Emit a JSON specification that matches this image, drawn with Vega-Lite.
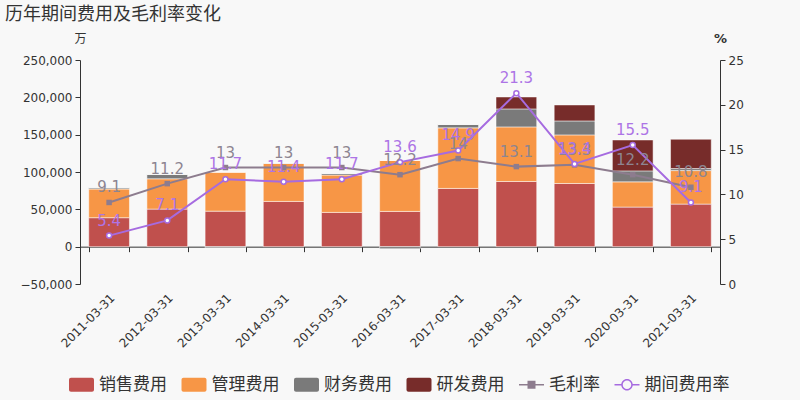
{
  "$schema": "https://vega.github.io/schema/vega-lite/v6.json",
  "autosize": {"type": "none"},
  "width": 640,
  "height": 224,
  "padding": {"left": 80, "top": 60, "right": 80, "bottom": 116},
  "background": "#f8f8f8",
  "title": {"text": "历年期间费用及毛利率变化", "anchor": "start", "frame": "group", "dx": -75, "dy": -4, "font": "Noto Sans CJK SC", "fontSize": 18, "fontWeight": "normal", "color": "#333333"},
  "config": {"view": {"stroke": null}, "axis": {"grid": false}},
  "datasets": {
    "bars": [
      {"d": "2011-03-31", "t": "销售费用", "v": 38800, "o": 1},
      {"d": "2011-03-31", "t": "管理费用", "v": 38400, "o": 2},
      {"d": "2011-03-31", "t": "财务费用", "v": 1700, "o": 3},
      {"d": "2011-03-31", "t": "研发费用", "v": 0, "o": 4},
      {"d": "2012-03-31", "t": "销售费用", "v": 50300, "o": 1},
      {"d": "2012-03-31", "t": "管理费用", "v": 40600, "o": 2},
      {"d": "2012-03-31", "t": "财务费用", "v": 5800, "o": 3},
      {"d": "2012-03-31", "t": "研发费用", "v": 0, "o": 4},
      {"d": "2013-03-31", "t": "销售费用", "v": 47600, "o": 1},
      {"d": "2013-03-31", "t": "管理费用", "v": 52100, "o": 2},
      {"d": "2013-03-31", "t": "财务费用", "v": -1500, "o": 3},
      {"d": "2013-03-31", "t": "研发费用", "v": 0, "o": 4},
      {"d": "2014-03-31", "t": "销售费用", "v": 60600, "o": 1},
      {"d": "2014-03-31", "t": "管理费用", "v": 50800, "o": 2},
      {"d": "2014-03-31", "t": "财务费用", "v": 500, "o": 3},
      {"d": "2014-03-31", "t": "研发费用", "v": 0, "o": 4},
      {"d": "2015-03-31", "t": "销售费用", "v": 45900, "o": 1},
      {"d": "2015-03-31", "t": "管理费用", "v": 50000, "o": 2},
      {"d": "2015-03-31", "t": "财务费用", "v": 2100, "o": 3},
      {"d": "2015-03-31", "t": "研发费用", "v": 0, "o": 4},
      {"d": "2016-03-31", "t": "销售费用", "v": 47200, "o": 1},
      {"d": "2016-03-31", "t": "管理费用", "v": 68200, "o": 2},
      {"d": "2016-03-31", "t": "财务费用", "v": -2700, "o": 3},
      {"d": "2016-03-31", "t": "研发费用", "v": 0, "o": 4},
      {"d": "2017-03-31", "t": "销售费用", "v": 78000, "o": 1},
      {"d": "2017-03-31", "t": "管理费用", "v": 81100, "o": 2},
      {"d": "2017-03-31", "t": "财务费用", "v": 4500, "o": 3},
      {"d": "2017-03-31", "t": "研发费用", "v": 0, "o": 4},
      {"d": "2018-03-31", "t": "销售费用", "v": 87300, "o": 1},
      {"d": "2018-03-31", "t": "管理费用", "v": 73100, "o": 2},
      {"d": "2018-03-31", "t": "财务费用", "v": 24100, "o": 3},
      {"d": "2018-03-31", "t": "研发费用", "v": 16000, "o": 4},
      {"d": "2019-03-31", "t": "销售费用", "v": 84600, "o": 1},
      {"d": "2019-03-31", "t": "管理费用", "v": 65100, "o": 2},
      {"d": "2019-03-31", "t": "财务费用", "v": 18700, "o": 3},
      {"d": "2019-03-31", "t": "研发费用", "v": 21400, "o": 4},
      {"d": "2020-03-31", "t": "销售费用", "v": 53000, "o": 1},
      {"d": "2020-03-31", "t": "管理费用", "v": 33800, "o": 2},
      {"d": "2020-03-31", "t": "财务费用", "v": 14700, "o": 3},
      {"d": "2020-03-31", "t": "研发费用", "v": 41400, "o": 4},
      {"d": "2021-03-31", "t": "销售费用", "v": 57000, "o": 1},
      {"d": "2021-03-31", "t": "管理费用", "v": 44900, "o": 2},
      {"d": "2021-03-31", "t": "财务费用", "v": 2700, "o": 3},
      {"d": "2021-03-31", "t": "研发费用", "v": 39300, "o": 4}
    ],
    "rates": [
      {"d": "2011-03-31", "s": "毛利率", "r": 9.1},
      {"d": "2012-03-31", "s": "毛利率", "r": 11.2},
      {"d": "2013-03-31", "s": "毛利率", "r": 13},
      {"d": "2014-03-31", "s": "毛利率", "r": 13},
      {"d": "2015-03-31", "s": "毛利率", "r": 13},
      {"d": "2016-03-31", "s": "毛利率", "r": 12.2},
      {"d": "2017-03-31", "s": "毛利率", "r": 14},
      {"d": "2018-03-31", "s": "毛利率", "r": 13.1},
      {"d": "2019-03-31", "s": "毛利率", "r": 13.3},
      {"d": "2020-03-31", "s": "毛利率", "r": 12.2},
      {"d": "2021-03-31", "s": "毛利率", "r": 10.8},
      {"d": "2011-03-31", "s": "期间费用率", "r": 5.4},
      {"d": "2012-03-31", "s": "期间费用率", "r": 7.1},
      {"d": "2013-03-31", "s": "期间费用率", "r": 11.7},
      {"d": "2014-03-31", "s": "期间费用率", "r": 11.4},
      {"d": "2015-03-31", "s": "期间费用率", "r": 11.7},
      {"d": "2016-03-31", "s": "期间费用率", "r": 13.6},
      {"d": "2017-03-31", "s": "期间费用率", "r": 14.9},
      {"d": "2018-03-31", "s": "期间费用率", "r": 21.3},
      {"d": "2019-03-31", "s": "期间费用率", "r": 13.4},
      {"d": "2020-03-31", "s": "期间费用率", "r": 15.5},
      {"d": "2021-03-31", "s": "期间费用率", "r": 9.1}
    ]
  },
  "layer": [
    {
      "data": {"name": "bars"},
      "mark": {"type": "bar", "stroke": "#ffffff", "strokeOpacity": 0.5, "strokeWidth": 1},
      "encoding": {
        "x": {"field": "d", "type": "nominal", "sort": null,
              "scale": {"paddingInner": 0.3, "paddingOuter": 0.15},
              "axis": {"orient": "bottom", "title": null, "domain": false, "ticks": false, "labelAngle": -45, "labelFont": "DejaVu Sans", "labelFontSize": 12, "labelColor": "#333333", "labelPadding": 8}},
        "y": {"field": "v", "type": "quantitative", "stack": "zero",
              "scale": {"domain": [-50000, 250000], "nice": false},
              "axis": {"orient": "left", "values": [-50000, 0, 50000, 100000, 150000, 200000, 250000], "format": ",.0f", "formatType": "number", "title": "万", "titleAngle": 0, "titleX": 0, "titleY": -22, "titleAlign": "center", "titleBaseline": "middle", "titleFont": "Noto Sans CJK SC", "titleFontSize": 12, "titleFontWeight": "normal", "titleColor": "#333333", "labelFont": "DejaVu Sans", "labelFontSize": 12, "labelColor": "#333333", "domainColor": "#333333", "tickColor": "#333333", "tickSize": 5, "labelPadding": 3}},
        "color": {"field": "t", "type": "nominal",
                  "scale": {"domain": ["销售费用", "管理费用", "财务费用", "研发费用", "毛利率", "期间费用率"], "range": ["#c0504d", "#f79646", "#7a7a7a", "#772c2a", "#8d7c8e", "#a66be0"]},
                  "legend": {"orient": "none", "legendX": -11, "legendY": 312, "direction": "horizontal", "title": null, "labelFont": "Noto Sans CJK SC", "labelFontSize": 17, "labelColor": "#333333", "symbolSize": 625, "labelOffset": 5, "columnPadding": 14.5, "symbolStrokeWidth": 0, "symbolOpacity": 1,
                    "encode": {"symbols": {"update": {
                      "shape": {"signal": "datum.value==='毛利率' ? 'M-1,-0.06H1V0.06H-1ZM-0.32,-0.32H0.32V0.32H-0.32Z' : datum.value==='期间费用率' ? 'M-1,-0.06H-0.4V0.06H-1ZM0.4,-0.06H1V0.06H0.4ZM0.46,0A0.46,0.46,0,1,1,-0.46,0A0.46,0.46,0,1,1,0.46,0ZM0.34,0A0.34,0.34,0,1,0,-0.34,0A0.34,0.34,0,1,0,0.34,0Z' : 'M-0.84,-0.56H0.84A0.16,0.16,0,0,1,1,-0.4V0.4A0.16,0.16,0,0,1,0.84,0.56H-0.84A0.16,0.16,0,0,1,-1,0.4V-0.4A0.16,0.16,0,0,1,-0.84,-0.56Z'"},
                      "fill": {"signal": "scale('color', datum.value)"},
                      "stroke": {"value": "transparent"},
                      "strokeWidth": {"value": 0},
                      "opacity": {"value": 1}
                    }}}}},
        "order": {"field": "o", "type": "quantitative"}
      }
    },
    {
      "data": {"name": "rates"},
      "layer": [
        {
          "mark": {"type": "line", "strokeWidth": 2},
          "encoding": {
            "x": {"field": "d", "type": "nominal", "sort": null,
                  "axis": {"orient": "bottom", "offset": -37.33, "title": null, "labels": false, "ticks": true, "tickBand": "extent", "tickSize": 5, "domainColor": "#333333", "tickColor": "#333333"}},
            "y": {"field": "r", "type": "quantitative",
                  "scale": {"domain": [0, 25], "nice": false},
                  "axis": {"orient": "right", "values": [0, 5, 10, 15, 20, 25], "title": "%", "titleAngle": 0, "titleX": 0, "titleY": -22, "titleAlign": "center", "titleBaseline": "middle", "titleFont": "DejaVu Sans", "titleFontSize": 13, "titleFontWeight": "bold", "titleColor": "#333333", "labelFont": "DejaVu Sans", "labelFontSize": 12, "labelColor": "#333333", "domainColor": "#333333", "tickColor": "#333333", "tickSize": 5, "labelPadding": 3}},
            "color": {"field": "s", "type": "nominal",
                  "legend": {"orient": "none", "legendX": -11, "legendY": 312, "direction": "horizontal", "title": null, "labelFont": "Noto Sans CJK SC", "labelFontSize": 17, "labelColor": "#333333", "symbolSize": 625, "labelOffset": 5, "columnPadding": 14.5, "symbolStrokeWidth": 0, "symbolOpacity": 1,
                    "encode": {"symbols": {"update": {
                      "shape": {"signal": "datum.value==='毛利率' ? 'M-1,-0.06H1V0.06H-1ZM-0.32,-0.32H0.32V0.32H-0.32Z' : datum.value==='期间费用率' ? 'M-1,-0.06H-0.4V0.06H-1ZM0.4,-0.06H1V0.06H0.4ZM0.46,0A0.46,0.46,0,1,1,-0.46,0A0.46,0.46,0,1,1,0.46,0ZM0.34,0A0.34,0.34,0,1,0,-0.34,0A0.34,0.34,0,1,0,0.34,0Z' : 'M-0.84,-0.56H0.84A0.16,0.16,0,0,1,1,-0.4V0.4A0.16,0.16,0,0,1,0.84,0.56H-0.84A0.16,0.16,0,0,1,-1,0.4V-0.4A0.16,0.16,0,0,1,-0.84,-0.56Z'"},
                      "fill": {"signal": "scale('color', datum.value)"},
                      "stroke": {"value": "transparent"},
                      "strokeWidth": {"value": 0},
                      "opacity": {"value": 1}
                    }}}}}
          }
        },
        {
          "transform": [{"filter": "datum.s === '毛利率'"}],
          "mark": {"type": "point", "shape": "square", "filled": true, "color": "#8d7c8e", "size": 30, "opacity": 1},
          "encoding": {
            "x": {"field": "d", "type": "nominal", "sort": null},
            "y": {"field": "r", "type": "quantitative"}
          }
        },
        {
          "transform": [{"filter": "datum.s === '期间费用率'"}],
          "mark": {"type": "point", "shape": "circle", "filled": true, "fill": "#ffffff", "stroke": "#a66be0", "strokeWidth": 1.5, "size": 25, "opacity": 1},
          "encoding": {
            "x": {"field": "d", "type": "nominal", "sort": null},
            "y": {"field": "r", "type": "quantitative"}
          }
        },
        {
          "transform": [{"filter": "datum.s === '毛利率'"}],
          "mark": {"type": "text", "dy": -15, "baseline": "middle", "font": "DejaVu Sans", "fontSize": 15, "color": "#8d8591"},
          "encoding": {
            "x": {"field": "d", "type": "nominal", "sort": null},
            "y": {"field": "r", "type": "quantitative"},
            "text": {"field": "r", "type": "quantitative"}
          }
        },
        {
          "transform": [{"filter": "datum.s === '期间费用率'"}],
          "mark": {"type": "text", "dy": -15, "baseline": "middle", "font": "DejaVu Sans", "fontSize": 15, "color": "#ad74e6"},
          "encoding": {
            "x": {"field": "d", "type": "nominal", "sort": null},
            "y": {"field": "r", "type": "quantitative"},
            "text": {"field": "r", "type": "quantitative"}
          }
        }
      ]
    }
  ],
  "resolve": {"scale": {"y": "independent"}, "axis": {"x": "independent"}}
}
